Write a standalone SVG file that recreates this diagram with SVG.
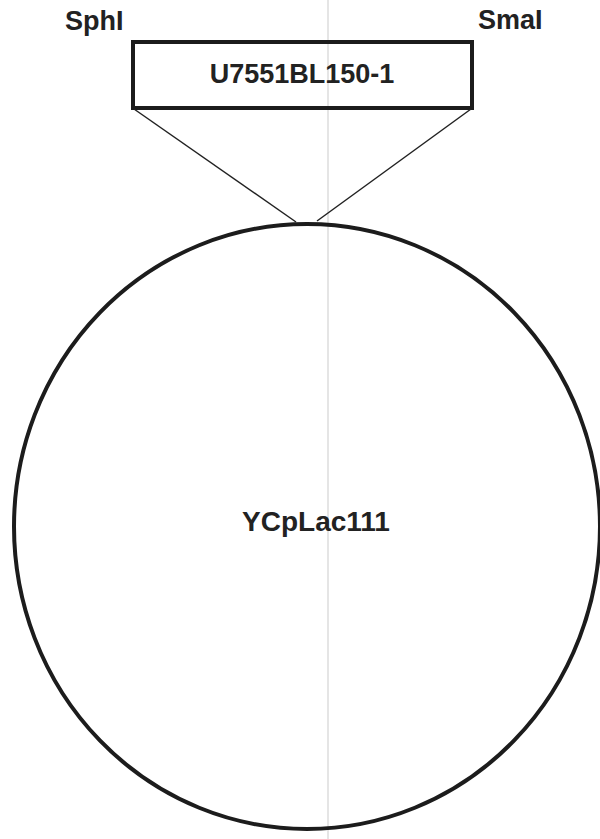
<svg xmlns="http://www.w3.org/2000/svg" width="600" height="839" viewBox="0 0 600 839">
  <style>
    .lbl { font-family: "Liberation Sans", Arial, sans-serif; font-weight: bold; fill: #222; }
    .conn { stroke: #222; stroke-width: 1.5; fill: none; }
  </style>
  <rect x="0" y="0" width="600" height="839" fill="#fff"/>
  <line x1="328" y1="0" x2="328" y2="839" stroke="#dcdcdc" stroke-width="1.5"/>
  <g id="plasmid">
    <ellipse cx="307" cy="526.5" rx="293" ry="302.5" fill="none" stroke="#1c1c1c" stroke-width="4"/>
    <text class="lbl" x="316" y="531" font-size="28" text-anchor="middle">YCpLac111</text>
  </g>
  <g id="insert">
    <rect x="133" y="42" width="339" height="66" fill="none" stroke="#1c1c1c" stroke-width="4"/>
    <text class="lbl" x="302" y="83" font-size="27" text-anchor="middle">U7551BL150-1</text>
  </g>
  <g id="sphI">
    <text class="lbl" x="65" y="30" font-size="27">SphI</text>
  </g>
  <g id="smaI">
    <text class="lbl" x="478" y="29" font-size="27">SmaI</text>
  </g>
  <g id="connectors">
    <line class="conn" x1="134" y1="109" x2="296" y2="222"/>
    <line class="conn" x1="471" y1="109" x2="317" y2="221"/>
  </g>
</svg>
